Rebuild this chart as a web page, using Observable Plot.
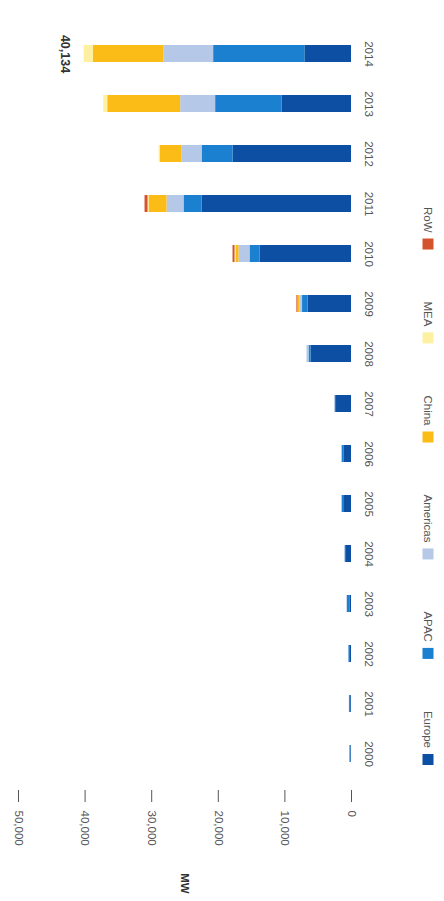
<!DOCTYPE html>
<html>
<head>
<meta charset="utf-8">
<script src="https://cdn.jsdelivr.net/npm/d3@7"></script>
<script src="https://cdn.jsdelivr.net/npm/@observablehq/plot@0.6"></script>
<style>
html, body { margin: 0; padding: 0; background: #fff; }
#wrap { position: relative; width: 444px; height: 901px; overflow: hidden; font-family: "Liberation Sans", Arial, sans-serif; }
#wrap svg { position: absolute; left: 0; top: 0; }
</style>
</head>
<body>
<div id="wrap"></div>
<script>
// ---- data ----
const years = [2000, 2001, 2002, 2003, 2004, 2005, 2006, 2007, 2008, 2009, 2010, 2011, 2012, 2013, 2014];
const regions = ["Europe", "APAC", "Americas", "China", "MEA", "RoW"];
const regionColors = ["#0d4fa3", "#1a80cf", "#b5c8e7", "#fbbc17", "#fdf0a0", "#d5532c"];
const europe   = [100, 120, 150, 250, 750, 1050, 1150, 2250, 6080, 6500, 13740, 22450, 17790, 10400, 7000];
const apac     = [130, 170, 250, 350, 200, 350, 250, 200, 300, 850, 1500, 2700, 4650, 10000, 13700];
const americas = [30, 40, 50, 100, 50, 100, 100, 100, 300, 400, 1650, 2550, 3000, 5250, 7450];
const china    = [0, 0, 0, 0, 0, 0, 0, 0, 0, 300, 450, 2700, 3300, 10950, 10600];
const mea      = [0, 0, 0, 0, 0, 0, 0, 0, 0, 0, 150, 150, 150, 600, 1384];
const row      = [20, 0, 0, 0, 0, 0, 0, 0, 0, 150, 300, 450, 0, 0, 0];
const valueTicks = [0, 10000, 20000, 30000, 40000, 50000];
const axisLabel = "MW";
const highlightYear = 2014;
const highlightLabel = "40,134";

// ---- build tidy table ----
const seriesByRegion = [europe, apac, americas, china, mea, row];
const rows = [];
years.forEach((yr, i) => {
  regions.forEach((r, j) => rows.push({year: yr, region: r, value: seriesByRegion[j][i]}));
});
const totals = years.map((yr, i) => ({year: yr, total: d3.sum(seriesByRegion, s => s[i])}));
const highlight = totals.filter(d => d.year === highlightYear);

const font = '"Liberation Sans", Arial, sans-serif';

const chart = Plot.plot({
  width: 444,
  height: 901,
  marginTop: 27,
  marginBottom: 111,
  marginLeft: 0,
  marginRight: 0,
  style: {fontFamily: font, background: "transparent", overflow: "visible"},
  x: {domain: [0, 50000], range: [351, 18]},
  y: {domain: years.slice().reverse(), range: [27, 780], paddingInner: 0.66, paddingOuter: 0.33, axis: null},
  color: {domain: regions, range: regionColors},
  marks: [
    Plot.barX(rows, Plot.stackX({x: "value", y: "year", fill: "region", order: regions})),
    Plot.axisX(valueTicks, {
      tickSize: 12, tickPadding: 8, tickRotate: 90,
      tickFormat: d3.format(","), label: null,
      fontSize: 11.5, color: "#555"
    }),
    Plot.text(years, {
      y: d => d, x: () => 0, text: d => String(d),
      dx: 17, rotate: 90, textAnchor: "middle", lineAnchor: "middle",
      fontSize: 11.5, fill: "#555"
    }),
    Plot.text(highlight, {
      x: "total", y: "year", text: () => highlightLabel,
      dx: -19, rotate: 90, textAnchor: "middle", lineAnchor: "middle",
      fontSize: 12.5, fontWeight: "bold", fill: "#333"
    }),
    Plot.text([axisLabel], {
      x: () => 25000, frameAnchor: "bottom", text: d => d,
      dy: 93, rotate: 90, textAnchor: "middle", lineAnchor: "middle",
      fontSize: 11.5, fontWeight: "bold", fill: "#333"
    })
  ]
});

const wrap = document.getElementById("wrap");
wrap.appendChild(chart);

// ---- legend (rotated, stacked upward from Europe) ----
const legend = d3.select(wrap).append("svg")
  .attr("width", 444).attr("height", 901)
  .style("font-family", font);
const sw = 11, gapLabel = 6, gapItem = 52, legendX = 428;
let squareBottom = 765;
regions.forEach((r, i) => {
  const top = squareBottom - sw;
  legend.append("rect")
    .attr("x", legendX - sw / 2).attr("y", top)
    .attr("width", sw).attr("height", sw)
    .attr("fill", regionColors[i]);
  const t = legend.append("text")
    .attr("transform", `translate(${legendX},${top - gapLabel}) rotate(90)`)
    .attr("text-anchor", "end")
    .attr("dominant-baseline", "central")
    .attr("font-size", 11.5)
    .attr("fill", "#555")
    .text(r);
  const len = t.node().getComputedTextLength();
  squareBottom = top - gapLabel - len - gapItem;
});
</script>
</body>
</html>
